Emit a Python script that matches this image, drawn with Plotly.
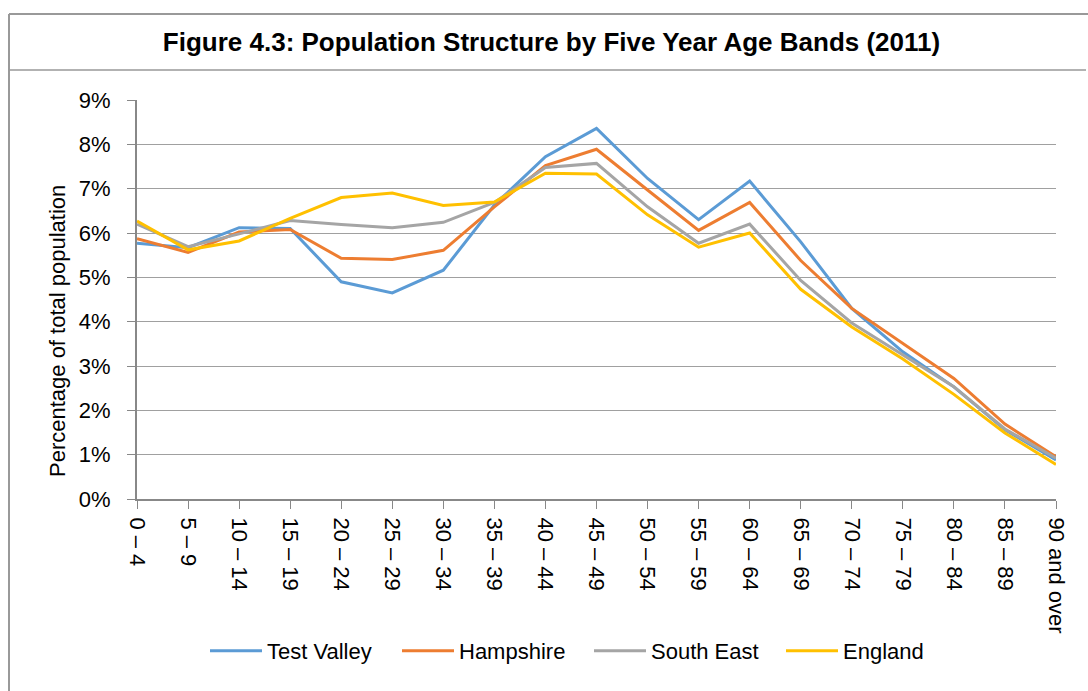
import plotly.graph_objects as go

age_bands = ["0 – 4", "5 – 9", "10 – 14", "15 – 19", "20 – 24", "25 – 29", "30 – 34",
             "35 – 39", "40 – 44", "45 – 49", "50 – 54", "55 – 59", "60 – 64", "65 – 69",
             "70 – 74", "75 – 79", "80 – 84", "85 – 89", "90 and over"]

test_valley = [5.77, 5.67, 6.12, 6.10, 4.90, 4.65, 5.16, 6.63, 7.72, 8.36, 7.23, 6.30,
               7.17, 5.80, 4.30, 3.32, 2.53, 1.56, 0.88]
hampshire = [5.87, 5.56, 6.02, 6.08, 5.43, 5.40, 5.61, 6.59, 7.52, 7.89, 6.97, 6.06,
             6.69, 5.38, 4.30, 3.51, 2.72, 1.69, 0.95]
south_east = [6.20, 5.69, 5.98, 6.28, 6.19, 6.12, 6.24, 6.69, 7.48, 7.57, 6.59, 5.77,
              6.20, 4.93, 3.97, 3.25, 2.53, 1.58, 0.92]
england = [6.27, 5.62, 5.82, 6.33, 6.80, 6.90, 6.62, 6.70, 7.35, 7.33, 6.41, 5.68,
           6.00, 4.73, 3.88, 3.16, 2.36, 1.49, 0.78]

series = [("Test Valley", test_valley, "#5B9BD5"),
          ("Hampshire", hampshire, "#ED7D31"),
          ("South East", south_east, "#A5A5A5"),
          ("England", england, "#FFC000")]

y_ticks = list(range(0, 10))
y_tick_text = [f"{v}%" for v in y_ticks]

FONT = "Liberation Sans, Arial, sans-serif"
x_idx = list(range(len(age_bands)))

fig = go.Figure()
for name, vals, col in series:
    fig.add_trace(go.Scatter(x=x_idx, y=vals, mode="lines", name=name,
                             line=dict(color=col, width=3)))

W, H = 1088, 691
L, R, T, B = 137, 1056, 100, 499
pw, ph = R - L, B - T

def px_x(p):
    return (p - L) / pw

def px_y(p):
    return (B - p) / ph

shapes = [
    dict(type="line", xref="paper", yref="paper", x0=px_x(9), x1=px_x(1088),
         y0=px_y(14), y1=px_y(14), line=dict(color="#999999", width=2)),
    dict(type="line", xref="paper", yref="paper", x0=px_x(9), x1=px_x(9),
         y0=px_y(14), y1=px_y(691), line=dict(color="#999999", width=2)),
    dict(type="line", xref="paper", yref="paper", x0=px_x(9), x1=px_x(1086),
         y0=px_y(70), y1=px_y(70), line=dict(color="#999999", width=1.5)),
]

fig.update_layout(
    width=W, height=H,
    margin=dict(l=L, r=W - R, t=T, b=H - B),
    paper_bgcolor="white", plot_bgcolor="white",
    font=dict(family=FONT, size=22, color="#000000"),
    title=dict(text="<b>Figure 4.3: Population Structure by Five Year Age Bands (2011)</b>",
               x=(148 + 955) / 2 / W, xanchor="center", y=1 - 42 / H, yanchor="middle",
               font=dict(family=FONT, size=26, color="#000000")),
    showlegend=True,
    legend=dict(orientation="h", x=px_x(205), xanchor="left", y=px_y(651), yanchor="middle",
                font=dict(family=FONT, size=22), itemwidth=52, entrywidth=125,
                bgcolor="rgba(0,0,0,0)"),
    shapes=shapes,
    annotations=[dict(text="Percentage of total population", textangle=-90,
                      xref="paper", yref="paper", x=px_x(57), y=px_y(331),
                      xanchor="center", yanchor="middle", showarrow=False,
                      font=dict(family=FONT, size=22, color="#000000"))],
)

fig.update_xaxes(
    range=[0, len(age_bands) - 1], tickmode="array", tickvals=x_idx, ticktext=age_bands,
    tickangle=90, ticks="outside", ticklen=8, tickcolor="#888888", tickwidth=1,
    showline=True, linecolor="#888888", linewidth=2, showgrid=False, zeroline=False,
    ticklabelstandoff=4, tickfont=dict(family=FONT, size=22, color="#000000"),
)
fig.update_yaxes(
    range=[0, 9], tickmode="array", tickvals=y_ticks, ticktext=y_tick_text,
    ticks="outside", ticklen=8, tickcolor="#888888", tickwidth=1,
    showline=True, linecolor="#888888", linewidth=2,
    showgrid=True, gridcolor="#A0A0A0", gridwidth=1, zeroline=False,
    ticklabelstandoff=12, tickfont=dict(family=FONT, size=22, color="#000000"),
)

fig.write_html("out.html")
